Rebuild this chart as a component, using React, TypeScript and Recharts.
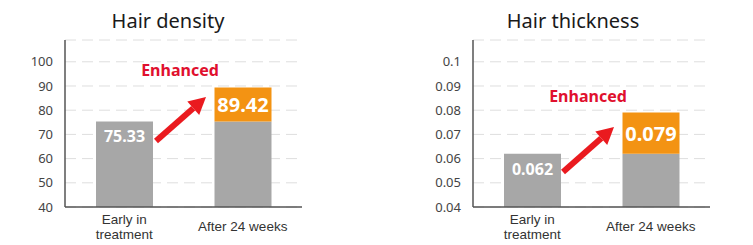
import React from "react";
import { BarChart, Bar, XAxis, YAxis, CartesianGrid, LabelList } from "recharts";

const categories = ["Early in\ntreatment", "After 24 weeks"];

const densityEarly = 75.33;
const densityAfter = 89.42;
const densityTicks = [40, 50, 60, 70, 80, 90, 100];

const thicknessEarly = 0.062;
const thicknessAfter = 0.079;
const thicknessTicks = [0.04, 0.05, 0.06, 0.07, 0.08, 0.09, 0.1];

const FONT = "'Noto Sans', Arial, sans-serif";
const TICK_FONT = "'Liberation Sans', Arial, sans-serif";
const GRAY = "#a7a7a7";
const ORANGE = "#f39313";
const RED = "#e0102e";
const ARROW = "#ea1a1f";

// gray part is the starting value, orange part is what was gained on top of it
const buildRows = (early: number, after: number, digits: number) => [
  { name: categories[0], base: early, gain: 0, earlyLabel: early.toFixed(digits), afterLabel: null },
  { name: categories[1], base: early, gain: after - early, earlyLabel: null, afterLabel: after.toFixed(digits) },
];

const CategoryTick = (props: any) => {
  const { x, y, payload } = props;
  const lines = String(payload.value).split("\n");
  const top = lines.length > 1 ? 17 : 24;
  return (
    <text x={x} y={y + top} textAnchor="middle" fill="#333" fontSize={13.5} fontFamily={TICK_FONT}>
      {lines.map((l, i) => (
        <tspan key={i} x={x} dy={i === 0 ? 0 : 15}>
          {l}
        </tspan>
      ))}
    </text>
  );
};

const valueLabel = (fontSize: number, inside: boolean) => (props: any) => {
  const { x, y, width, height, value } = props;
  if (value == null || value === "") return null;
  const cy = inside ? y + 15 : y + height / 2;
  return (
    <text
      x={x + width / 2}
      y={cy}
      textAnchor="middle"
      dominantBaseline="central"
      fill="#fff"
      fontSize={fontSize}
      fontWeight={700}
      fontFamily={FONT}
    >
      {value}
    </text>
  );
};

interface PanelProps {
  title: string;
  rows: ReturnType<typeof buildRows>;
  domain: [number, number];
  ticks: number[];
  width: number;
  margin: { top: number; right: number; bottom: number; left: number };
  yWidth: number;
  titleX: number;
  note: { x: number; y: number };
  arrow: { x1: number; y1: number; x2: number; y2: number };
  tickFmt: (v: number) => string;
}

const Panel: React.FC<PanelProps> = ({ title, rows, domain, ticks, width, margin, yWidth, titleX, note, arrow, tickFmt }) => {
  const ang = Math.atan2(arrow.y2 - arrow.y1, arrow.x2 - arrow.x1);
  const hl = 17;
  const hw = 9;
  const bx = arrow.x2 - hl * Math.cos(ang);
  const by = arrow.y2 - hl * Math.sin(ang);
  const px = -Math.sin(ang);
  const py = Math.cos(ang);
  return (
    <div style={{ position: "relative", width, height: 245 }}>
      <BarChart width={width} height={245} data={rows} margin={margin} barSize={57}>
        <CartesianGrid vertical={false} stroke="#dedede" strokeDasharray="11 6" />
        <XAxis
          dataKey="name"
          height={30}
          tick={<CategoryTick />}
          tickSize={0}
          tickMargin={0}
          tickLine={false}
          axisLine={{ stroke: "#555", strokeWidth: 1.5 }}
          interval={0}
        />
        <YAxis
          width={yWidth}
          domain={domain}
          ticks={ticks}
          interval={0}
          allowDataOverflow
          tickFormatter={tickFmt}
          tickSize={0}
          tickMargin={12}
          tickLine={false}
          axisLine={{ stroke: "#555", strokeWidth: 1.5 }}
          tick={{ fill: "#444", fontSize: 13, fontFamily: FONT }}
        />
        <Bar dataKey="base" stackId="s" fill={GRAY} isAnimationActive={false}>
          <LabelList dataKey="earlyLabel" content={valueLabel(16, true)} />
        </Bar>
        <Bar dataKey="gain" stackId="s" fill={ORANGE} isAnimationActive={false}>
          <LabelList dataKey="afterLabel" content={valueLabel(20, false)} />
        </Bar>
      </BarChart>
      <svg width={width} height={245} style={{ position: "absolute", left: 0, top: 0, pointerEvents: "none" }}>
        <text x={titleX} y={28} textAnchor="middle" fontSize={20} fill="#1a1a1a" fontFamily={FONT}>
          {title}
        </text>
        <text x={note.x} y={note.y} textAnchor="middle" fontSize={16} fontWeight={700} fill={RED} fontFamily={FONT}>
          Enhanced
        </text>
        <line x1={arrow.x1} y1={arrow.y1} x2={bx} y2={by} stroke={ARROW} strokeWidth={6} />
        <polygon
          points={`${arrow.x2},${arrow.y2} ${bx + px * hw},${by + py * hw} ${bx - px * hw},${by - py * hw}`}
          fill={ARROW}
        />
      </svg>
    </div>
  );
};

export default function App() {
  return (
    <div style={{ position: "absolute", left: 0, top: 0, width: 753, height: 245, background: "#fff", display: "flex" }}>
      <Panel
        title="Hair density"
        rows={buildRows(densityEarly, densityAfter, 2)}
        domain={[40, 109]}
        ticks={densityTicks}
        width={376}
        margin={{ top: 40, right: 74, bottom: 8, left: 0 }}
        yWidth={65}
        titleX={168}
        note={{ x: 180, y: 76 }}
        arrow={{ x1: 156, y1: 141, x2: 206, y2: 97 }}
        tickFmt={(v) => String(v)}
      />
      <Panel
        title="Hair thickness"
        rows={buildRows(thicknessEarly, thicknessAfter, 3)}
        domain={[0.04, 0.109]}
        ticks={thicknessTicks}
        width={377}
        margin={{ top: 40, right: 43, bottom: 8, left: 0 }}
        yWidth={97}
        titleX={197}
        note={{ x: 212, y: 102 }}
        arrow={{ x1: 187, y1: 172, x2: 238, y2: 127 }}
        tickFmt={(v) => String(+v.toFixed(2))}
      />
    </div>
  );
}
